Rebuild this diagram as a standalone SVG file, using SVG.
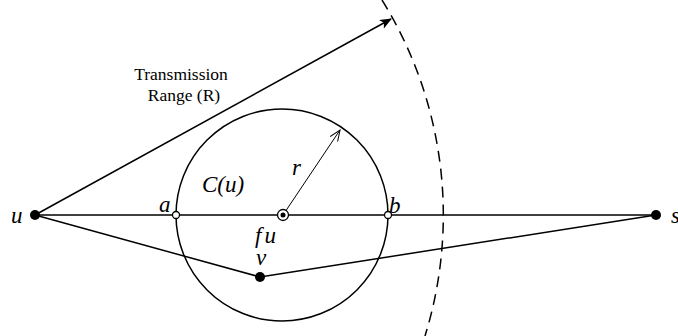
<svg xmlns="http://www.w3.org/2000/svg" width="678" height="336" viewBox="0 0 678 336">
<style>
.ln{stroke:#000;stroke-width:1.5;fill:none}
.lbl{font-family:"Liberation Serif","Times New Roman",serif;font-style:italic;font-size:23px;fill:#000}
.txt{font-family:"Liberation Serif","Times New Roman",serif;font-size:17.5px;fill:#000;text-anchor:middle}
.dot{fill:#000}
.open{fill:#fff;stroke:#000;stroke-width:1.3}
</style>
<defs>
<marker id="fill" markerWidth="12" markerHeight="10" refX="11" refY="5" orient="auto" markerUnits="userSpaceOnUse"><path d="M0,0 L12,5 L0,10 L3,5 Z" fill="#000"/></marker>
<marker id="open" markerWidth="12" markerHeight="10" refX="11" refY="5" orient="auto" markerUnits="userSpaceOnUse"><path d="M0,0.5 L11,5 L0,9.5" fill="none" stroke="#000" stroke-width="1"/></marker>
</defs>
<g id="connectors">
<line class="ln" x1="35" y1="215" x2="656" y2="215"/>
<polyline class="ln" points="35,215 260,277 656,215"/>
<line class="ln" x1="35" y1="215" x2="391" y2="19" marker-end="url(#fill)"/>
<line x1="283" y1="215" x2="340" y2="130" stroke="#000" stroke-width="1" marker-end="url(#open)"/>
<path d="M382,0 A408,408 0 0 1 425,336" fill="none" stroke="#000" stroke-width="1.5" stroke-dasharray="11,7"/>
</g>
<g id="circle-C"><circle class="ln" cx="282" cy="215" r="106"/><text class="lbl" x="202" y="192">C(u)</text></g>
<g id="node-u"><circle class="dot" cx="35" cy="215" r="5"/><text class="lbl" x="11" y="223" font-size="25">u</text></g>
<g id="node-s"><circle class="dot" cx="656" cy="215" r="5"/><text class="lbl" x="671" y="223" font-size="25">s</text></g>
<g id="node-v"><circle class="dot" cx="260" cy="277" r="5"/><text class="lbl" x="256" y="265">v</text></g>
<g id="node-a"><circle class="open" cx="176" cy="215" r="3.5"/><text class="lbl" x="159" y="212">a</text></g>
<g id="node-b"><circle class="open" cx="388" cy="215" r="3.5"/><text class="lbl" x="389" y="213">b</text></g>
<g id="node-fu"><circle fill="#fff" stroke="#000" stroke-width="1.3" cx="283" cy="215" r="5.5"/><circle class="dot" cx="283" cy="215" r="2.5"/><text class="lbl" x="255" y="243">f<tspan dx="3">u</tspan></text></g>
<g id="label-r"><text class="lbl" x="292" y="175">r</text></g>
<g id="label-range"><text class="txt" x="181" y="80">Transmission</text><text class="txt" x="184" y="101">Range (R)</text></g>
</svg>
